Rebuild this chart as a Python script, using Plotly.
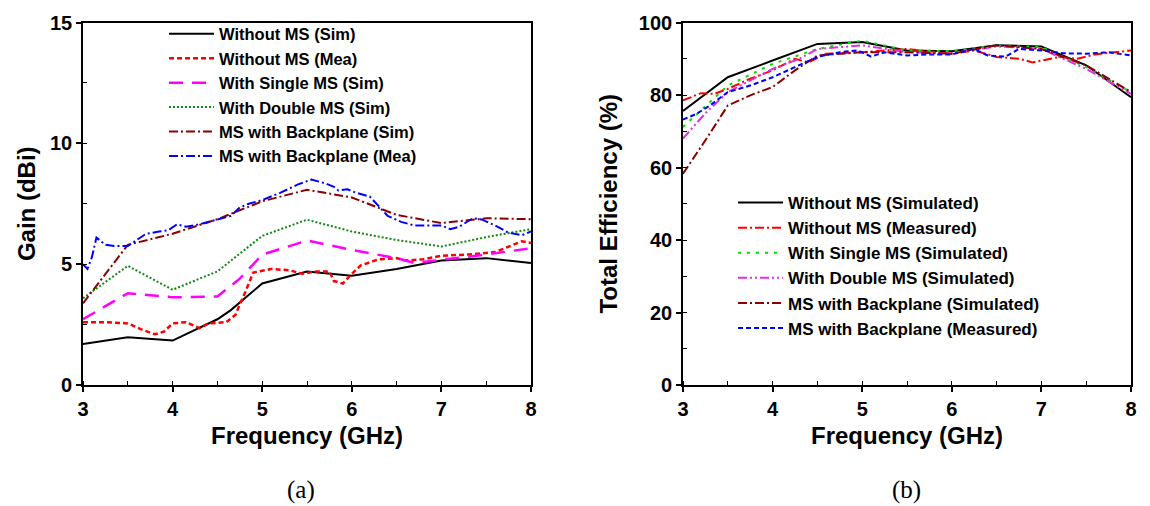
import plotly.graph_objects as go

# ---------------- (a) Gain data ----------------
f_wo_sim = [3.0, 3.5, 4.0, 4.5, 4.65, 5.0, 5.5, 6.0, 6.5, 7.0, 7.5, 8.0]
g_wo_sim = [1.7, 1.98, 1.84, 2.72, 3.1, 4.2, 4.7, 4.52, 4.8, 5.15, 5.25, 5.05]

f_wo_mea = [3.0, 3.25, 3.5, 3.65, 3.8, 3.9, 4.0, 4.15, 4.3, 4.4, 4.6, 4.7, 4.8, 4.9, 5.1, 5.3,
            5.45, 5.6, 5.75, 5.8, 5.9, 6.0, 6.1, 6.3, 6.5, 6.6, 6.8, 7.0, 7.3, 7.6, 7.8, 7.9, 8.0]
g_wo_mea = [2.6, 2.6, 2.55, 2.3, 2.1, 2.2, 2.55, 2.6, 2.35, 2.55, 2.6, 2.9, 3.75, 4.65, 4.8, 4.75,
            4.6, 4.7, 4.7, 4.3, 4.2, 4.6, 4.95, 5.2, 5.25, 5.15, 5.2, 5.35, 5.4, 5.5, 5.8, 5.95, 5.88]

f_single = [3.0, 3.5, 4.0, 4.5, 4.75, 5.0, 5.5, 6.0, 6.5, 6.7, 7.0, 7.5, 8.0]
g_single = [2.72, 3.8, 3.63, 3.66, 4.4, 5.39, 5.98, 5.59, 5.25, 5.05, 5.18, 5.4, 5.66]

f_double = [3.0, 3.5, 4.0, 4.5, 5.0, 5.5, 6.0, 6.5, 7.0, 7.5, 8.0]
g_double = [3.59, 4.93, 3.94, 4.70, 6.17, 6.84, 6.35, 6.0, 5.73, 6.12, 6.45]

f_bp_sim = [3.0, 3.5, 4.0, 4.5, 5.0, 5.5, 6.0, 6.5, 7.0, 7.5, 8.0]
g_bp_sim = [3.38, 5.8, 6.26, 6.86, 7.6, 8.08, 7.76, 7.04, 6.7, 6.9, 6.86]

f_bp_mea = [3.0, 3.05, 3.1, 3.15, 3.25, 3.35, 3.5, 3.7, 3.85, 3.95, 4.05, 4.15, 4.3, 4.5, 4.65,
            4.75, 4.85, 5.0, 5.2, 5.4, 5.55, 5.7, 5.8, 5.85, 5.95, 6.05, 6.2, 6.3, 6.4, 6.55,
            6.7, 6.85, 7.0, 7.1, 7.2, 7.35, 7.45, 7.6, 7.75, 7.9, 8.0]
g_bp_mea = [5.0, 4.8, 5.3, 6.1, 5.8, 5.75, 5.75, 6.25, 6.35, 6.4, 6.65, 6.55, 6.65, 6.85, 7.0,
            7.35, 7.5, 7.65, 7.95, 8.3, 8.5, 8.35, 8.2, 8.05, 8.1, 7.95, 7.8, 7.4, 7.0, 6.75,
            6.6, 6.6, 6.6, 6.45, 6.55, 6.9, 6.85, 6.6, 6.3, 6.2, 6.35]

# ---------------- (b) Efficiency data ----------------
e_f_wo_sim = [3.0, 3.5, 4.0, 4.5, 5.0, 5.5, 6.0, 6.5, 7.0, 7.5, 8.0]
e_wo_sim = [75.6, 84.9, 89.5, 94.1, 94.6, 92.3, 92.1, 93.7, 93.4, 88.2, 79.4]

e_f_wo_mea = [3.0, 3.2, 3.35, 3.5, 3.75, 4.0, 4.25, 4.4, 4.6, 5.0, 5.25, 5.5, 6.0, 6.25, 6.5,
              6.75, 6.9, 7.0, 7.2, 7.4, 7.6, 8.0]
e_wo_mea = [78.5, 80.5, 80.3, 81.7, 84.5, 86.8, 90.0, 89.0, 91.4, 91.8, 92.3, 92.7, 91.4, 92.3,
            90.5, 90.0, 89.0, 89.5, 90.5, 90.0, 91.2, 92.3]

e_f_single = [3.0, 3.25, 3.5, 4.0, 4.5, 5.0, 5.5, 6.0, 6.5, 7.0, 7.5, 8.0]
e_single = [71.2, 77.0, 82.6, 88.6, 92.7, 95.0, 92.3, 92.1, 93.7, 93.2, 87.7, 80.8]

e_f_double = [3.0, 3.25, 3.5, 4.0, 4.3, 4.5, 5.0, 5.5, 6.0, 6.5, 7.0, 7.5, 8.0]
e_double = [68.0, 75.0, 80.8, 87.2, 90.0, 92.7, 93.7, 91.8, 91.5, 93.4, 92.7, 87.2, 80.3]

e_f_bp_sim = [3.0, 3.25, 3.5, 3.75, 4.0, 4.25, 4.5, 5.0, 5.5, 6.0, 6.5, 7.0, 7.5, 8.0]
e_bp_sim = [58.3, 67.5, 77.1, 79.9, 82.2, 86.8, 90.9, 91.8, 91.8, 91.4, 93.7, 92.7, 88.2, 80.8]

e_f_bp_mea = [3.0, 3.15, 3.3, 3.5, 3.75, 4.0, 4.25, 4.5, 4.75, 4.95, 5.1, 5.25, 5.5, 5.75, 6.0,
              6.25, 6.4, 6.6, 6.75, 7.0, 7.25, 7.5, 7.75, 8.0]
e_bp_mea = [73.2, 74.8, 77.1, 80.8, 82.6, 84.9, 87.7, 90.5, 91.8, 92.3, 90.6, 91.8, 90.9, 91.2,
            91.2, 92.7, 90.9, 90.6, 92.7, 92.3, 91.5, 91.4, 91.8, 90.9]

# tick labels
gain_ticks = [0, 5, 10, 15]
eff_ticks = [0, 20, 40, 60, 80, 100]
freq_ticks = [3, 4, 5, 6, 7, 8]

FONT = "Liberation Sans, Arial, sans-serif"
W, H = 1150, 506

fig = go.Figure()

left_series = [
    (f_wo_sim, g_wo_sim, "Without MS (Sim)", "#000000", "solid", 2),
    (f_wo_mea, g_wo_mea, "Without MS (Mea)", "#FF0000", "5px,3px", 2.5),
    (f_single, g_single, "With Single MS (Sim)", "#FF00FF", "14px,9px", 2.5),
    (f_double, g_double, "With Double MS (Sim)", "#118811", "2px,2px", 2),
    (f_bp_sim, g_bp_sim, "MS with Backplane (Sim)", "#8B0000", "9px,3px,2px,3px", 2),
    (f_bp_mea, g_bp_mea, "MS with Backplane (Mea)", "#0000FF", "9px,3px,2px,3px", 2),
]
for i, (x, y, name, c, d, w) in enumerate(left_series):
    fig.add_trace(go.Scatter(x=x, y=y, name=name, mode="lines",
                             line=dict(color=c, dash=d, width=w),
                             xaxis="x", yaxis="y", legend="legend",
                             legendgroup="a%d" % i))

right_series = [
    (e_f_wo_sim, e_wo_sim, "Without MS (Simulated)", "#000000", "solid", 2),
    (e_f_wo_mea, e_wo_mea, "Without MS (Measured)", "#FF0000", "9px,3px,2px,3px", 2),
    (e_f_single, e_single, "With Single MS (Simulated)", "#00E000", "3px,6px", 2),
    (e_f_double, e_double, "With Double MS (Simulated)", "#DD33DD", "9px,3px,2px,3px,2px,3px", 2),
    (e_f_bp_sim, e_bp_sim, "MS with Backplane (Simulated)", "#8B0000", "9px,3px,2px,3px", 2),
    (e_f_bp_mea, e_bp_mea, "MS with Backplane (Measured)", "#0000FF", "5px,3px", 2),
]
for i, (x, y, name, c, d, w) in enumerate(right_series):
    fig.add_trace(go.Scatter(x=x, y=y, name=name, mode="lines",
                             line=dict(color=c, dash=d, width=w),
                             xaxis="x2", yaxis="y2", legend="legend2",
                             legendgroup="b%d" % i))

x0a, x1a = 83 / W, 531 / W
x0b, x1b = 683 / W, 1131 / W
ydom = [1 - 385 / H, 1 - 22.5 / H]

axis_common = dict(
    showline=True, linecolor="black", linewidth=1.6, mirror=True,
    ticks="outside", ticklen=5, tickwidth=1.5, tickcolor="black",
    showgrid=False, zeroline=False, automargin=False,
    tickfont=dict(family=FONT, size=20, color="black", weight="bold"),
    title_font=dict(family=FONT, size=24, color="black", weight="bold"),
)

fig.update_layout(
    width=W, height=H,
    margin=dict(l=0, r=0, t=0, b=0),
    paper_bgcolor="white", plot_bgcolor="white",
    showlegend=True,
    xaxis=dict(domain=[x0a, x1a], range=[3, 8], anchor="y",
               tickvals=freq_ticks, ticktext=[str(v) for v in freq_ticks],
               minor=dict(dtick=0.5, ticks="inside", ticklen=4, tickcolor="black", tickwidth=1),
               title=dict(text="Frequency (GHz)", standoff=8), **axis_common),
    yaxis=dict(domain=ydom, range=[0, 15], anchor="x",
               tickvals=gain_ticks, ticktext=[str(v) for v in gain_ticks],
               minor=dict(dtick=2.5, ticks="inside", ticklen=4, tickcolor="black", tickwidth=1),
               title=dict(text="Gain (dBi)", standoff=8), **axis_common),
    xaxis2=dict(domain=[x0b, x1b], range=[3, 8], anchor="y2",
                tickvals=freq_ticks, ticktext=[str(v) for v in freq_ticks],
                minor=dict(dtick=0.5, ticks="inside", ticklen=4, tickcolor="black", tickwidth=1),
                title=dict(text="Frequency (GHz)", standoff=8), **axis_common),
    yaxis2=dict(domain=ydom, range=[0, 100], anchor="x2",
                tickvals=eff_ticks, ticktext=[str(v) for v in eff_ticks],
                minor=dict(dtick=10, ticks="inside", ticklen=4, tickcolor="black", tickwidth=1),
                title=dict(text="Total Efficiency (%)", standoff=14), **axis_common),
    legend=dict(x=164 / W, y=1 - 16.5 / H, xanchor="left", yanchor="top",
                bgcolor="rgba(0,0,0,0)", borderwidth=0, traceorder="grouped",
                tracegroupgap=0, itemwidth=45,
                font=dict(family=FONT, size=16.5, color="black", weight="bold")),
    legend2=dict(x=733 / W, y=1 - 185 / H, xanchor="left", yanchor="top",
                 bgcolor="rgba(0,0,0,0)", borderwidth=0, traceorder="grouped",
                 tracegroupgap=0, itemwidth=45,
                 font=dict(family=FONT, size=17, color="black", weight="bold")),
    annotations=[
        dict(text="(a)", x=301 / W, y=1 - 490 / H, xref="paper", yref="paper",
             showarrow=False, xanchor="center", yanchor="middle",
             font=dict(family="Liberation Serif, Times New Roman, serif", size=25, color="black")),
        dict(text="(b)", x=906 / W, y=1 - 490 / H, xref="paper", yref="paper",
             showarrow=False, xanchor="center", yanchor="middle",
             font=dict(family="Liberation Serif, Times New Roman, serif", size=25, color="black")),
    ],
)

fig.write_html("out.html")
